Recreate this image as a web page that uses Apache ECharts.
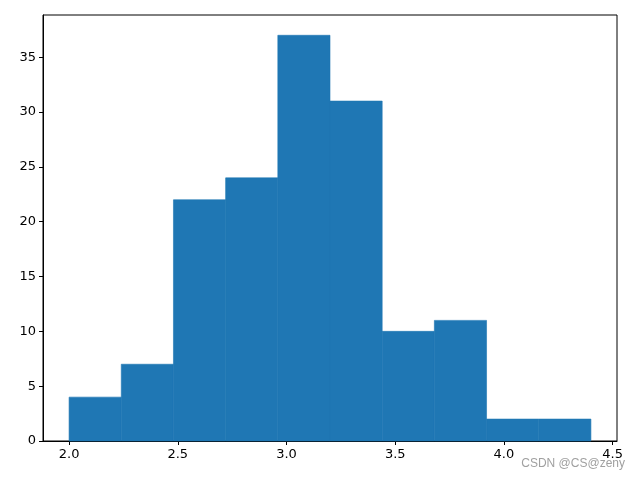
<!DOCTYPE html>
<html><head><meta charset="utf-8">
<script src="https://cdn.jsdelivr.net/npm/echarts@6/dist/echarts.min.js"></script>
<style>html,body{margin:0;padding:0;background:#fff}#c{width:640px;height:480px}</style>
</head><body><div id="c"></div>
<script>
const binEdges = [2.0, 2.24, 2.48, 2.72, 2.96, 3.2, 3.44, 3.68, 3.92, 4.16, 4.4];
const counts = [4, 7, 22, 24, 37, 31, 10, 11, 2, 2];
const xTicks = [2.0, 2.5, 3.0, 3.5, 4.0, 4.5];
const yTicks = [0, 5, 10, 15, 20, 25, 30, 35];

const data = counts.map((c, i) => [binEdges[i], binEdges[i + 1], c]);
const chart = echarts.init(document.getElementById('c'), null, {renderer: 'canvas'});
const font = 'DejaVu Sans';
chart.setOption({
  animation: false,
  grid: {left: 43, right: 23, top: 15, bottom: 39, show: true, borderColor: '#000', borderWidth: 1, backgroundColor: 'transparent'},
  xAxis: {
    type: 'value', min: 1.88, max: 4.52,
    axisLine: {show: true, onZero: false, lineStyle: {color: '#000', width: 1}},
    axisTick: {show: true, customValues: xTicks, length: 4, lineStyle: {color: '#000'}},
    axisLabel: {customValues: xTicks, color: '#000', fontFamily: font, fontSize: 13, margin: 7, formatter: v => v.toFixed(1), showMinLabel: true, showMaxLabel: true},
    splitLine: {show: false}
  },
  yAxis: {
    type: 'value', min: 0, max: 38.85,
    axisLine: {show: true, lineStyle: {color: '#000', width: 1}},
    axisTick: {show: true, customValues: yTicks, length: 4, lineStyle: {color: '#000'}},
    axisLabel: {customValues: yTicks, color: '#000', fontFamily: font, fontSize: 13, margin: 7},
    splitLine: {show: false}
  },
  series: [{
    type: 'custom',
    data: data,
    encode: {x: [0, 1], y: 2},
    z: 1,
    renderItem: function (params, api) {
      const p0 = api.coord([api.value(0), 0]);
      const p1 = api.coord([api.value(1), api.value(2)]);
      return {type: 'rect', shape: {x: p0[0], y: p1[1], width: p1[0] - p0[0], height: p0[1] - p1[1]}, style: {fill: '#1f77b4', stroke: '#1f77b4', lineWidth: 0.6}};
    }
  }],
  graphic: [{type: 'text', right: 15, top: 458, style: {text: 'CSDN @CS@zeny', fill: '#a0a0a0', font: '12px "Liberation Sans", Arial, sans-serif'}}]
});
</script></body></html>
